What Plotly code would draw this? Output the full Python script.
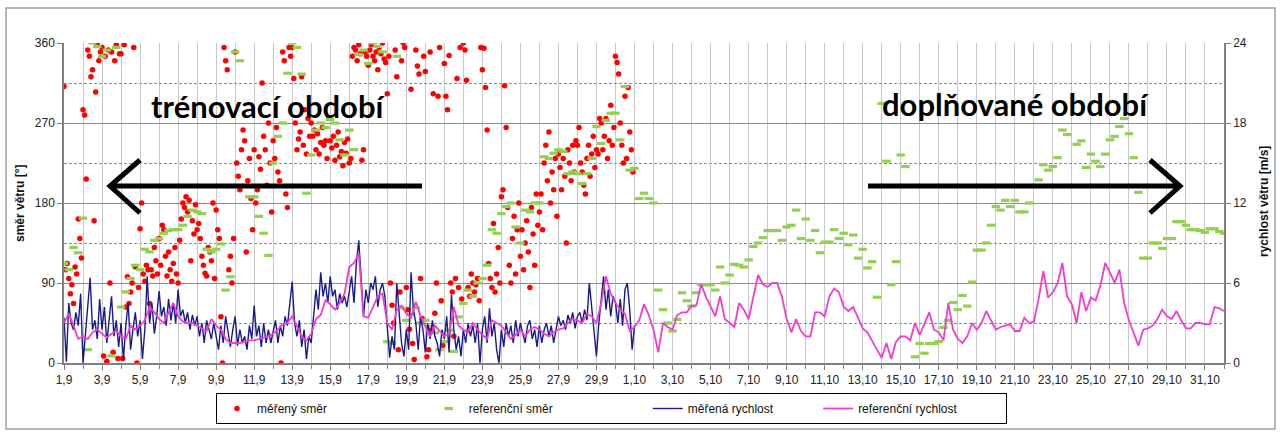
import plotly.graph_objects as go
import pandas as pd

# ---------------- data ----------------
START = "2011-09-01"

# measured wind speed [m/s], 3-hourly, 1.9 00:00 .. 1.10 00:00
meas_speed = [
    3.4, 0.1, 4.5, 3.0, 2.5, 3.8, 2.8, 5.2,
    0.0, 2.2, 4.0, 6.4, 2.5, 3.2, 1.8, 4.8,
    2.5, 4.2, 1.5, 3.5, 5.0, 2.0, 3.2, 1.2,
    3.0, 0.2, 2.8, 4.5, 1.0, 2.5, 3.8, 2.0,
    3.2, 0.3, 2.5, 6.5, 3.0, 4.5, 2.2, 3.5,
    5.4, 3.5, 4.2, 2.8, 4.8, 3.2, 4.5, 3.0,
    5.5, 3.5, 4.0, 3.0, 3.8, 2.5, 3.6, 2.8,
    3.5, 2.0, 3.0, 1.5, 3.2, 2.5, 1.8, 3.0,
    2.0, 1.0, 2.8, 1.5, 3.5, 2.2, 1.2, 2.5,
    3.5, 1.3, 2.5, 1.5, 2.0, 1.0, 2.8, 1.8,
    4.3, 2.0, 2.8, 1.2, 3.0, 1.5, 2.5, 1.5,
    2.5, 3.2, 1.5, 2.8, 2.0, 3.5, 2.8, 4.5,
    6.1, 3.0, 2.0, 3.2, 1.2, 2.5, 0.3, 2.0,
    1.5, 3.5, 5.5, 4.0, 6.8, 5.0, 6.0, 4.5,
    6.5, 5.0, 5.5, 4.0, 5.2, 4.5, 5.0, 4.2,
    5.5, 6.5, 4.5, 7.5, 9.2, 6.0, 3.5, 5.5,
    4.5, 6.0, 5.5, 6.5, 4.2, 5.5, 6.0, 5.0,
    3.0, 0.4, 2.0, 1.0, 6.0, 3.5, 1.5, 0.5,
    2.5, 1.0, 6.8, 4.0, 3.0, 1.0, 3.5, 2.5,
    0.8, 3.0, 1.8, 3.2, 2.0, 1.5, 0.5, 2.5,
    1.8, 3.5, 0.8, 5.1, 2.5, 1.0, 2.0, 0.5,
    2.5, 1.5, 3.0, 2.0, 2.8, 1.5, 3.0, 0.0,
    2.5, 3.5, 1.5, 4.1, 2.0, 3.0, 1.0, 0.0,
    2.5, 1.2, 3.0, 2.0, 2.8, 1.5, 3.2, 2.0,
    3.0, 2.2, 1.5, 2.8, 3.2, 1.8, 2.5, 1.2,
    2.8, 1.5, 2.5, 3.0, 2.0, 2.8, 1.5, 2.5,
    3.5, 2.8, 3.2, 2.5, 3.6, 3.0, 3.8, 2.6,
    3.5, 3.8, 3.0, 4.0, 3.2, 6.0, 4.0, 2.5,
    0.5, 3.0, 5.0, 6.5, 4.0, 5.5, 3.5, 5.0,
    4.5, 3.0, 4.8, 2.8, 5.5, 6.0, 4.0, 1.0,
    2.8,
]

# measured wind direction [deg], 2-hourly, September
meas_dir = [
    311, 105, 112, 95, 78, 88, 67, 108, 100, 162, 140, 118,
    285, 279, 207, 352, 345, 322, 330, 160, 305, 358, 340, 350,
    355, 8, 345, 2, 352, 90, 350, 12, 340, 358, 5, 348,
    348, 5, 358, 63, 97, 67, 80, 90, 355, 108, 0, 85,
    151, 180, 100, 92, 110, 105, 67, 105, 98, 130, 115, 100,
    140, 110, 155, 150, 120, 98, 125, 105, 92, 112, 130, 100,
    90, 138, 162, 180, 175, 187, 170, 183, 115, 160, 145, 178,
    150, 157, 140, 120, 110, 101, 98, 130, 125, 115, 180, 95,
    172, 150, 140, 52, 0, 355, 340, 330, 105, 120, 90, 140,
    350, 225, 210, 195, 240, 262, 250, 125, 205, 230, 185, 150,
    240, 180, 195, 232, 218, 315, 255, 240, 200, 270, 225, 170,
    250, 230, 265, 215, 205, 0, 350, 340, 190, 175, 355, 345,
    355, 320, 270, 240, 252, 260, 322, 245, 285, 235, 275, 255,
    270, 255, 262, 240, 258, 235, 248, 265, 245, 250, 230, 275,
    250, 242, 255, 228, 245, 260, 232, 238, 222, 248, 236, 252,
    225, 230, 345, 355, 352, 340, 358, 348, 228, 240, 350, 345,
    335, 352, 358, 345, 340, 350, 330, 355, 348, 360, 342, 338,
    303, 345, 90, 65, 45, 352, 322, 15, 80, 340, 360, 355,
    85, 60, 38, 308, 22, 4, 352, 334, 325, 95, 50, 345,
    328, 7, 15, 350, 38, 303, 56, 90, 300, 355, 70, 20,
    337, 300, 285, 346, 90, 80, 30, 95, 320, 85, 355, 72,
    360, 352, 318, 85, 75, 100, 90, 80, 88, 95, 70, 355,
    330, 354, 310, 262, 112, 95, 85, 157, 80, 100, 130, 90,
    187, 195, 312, 265, 175, 110, 90, 140, 165, 100, 150, 180,
    120, 150, 105, 135, 160, 125, 85, 175, 145, 110, 190, 155,
    170, 190, 150, 225, 245, 205, 260, 180, 215, 195, 230, 165,
    235, 220, 195, 230, 210, 135, 240, 225, 205, 245, 215, 250,
    245, 265, 225, 215, 200, 190, 230, 245, 210, 235, 255, 220,
    240, 235, 275, 270, 240, 255, 275, 230, 250, 290, 245, 265,
    345, 338, 325, 270, 245, 225, 300, 230, 310, 260, 240, 215,
]

# reference wind direction [deg], 6-hourly, 1.9 .. 1.11
ref_dir = [
    112, 105, 130, 124, 163, 15, 360, 356, 345, 352, 8, 355,
    63, 80, 95, 110, 105, 128, 125, 138, 140, 146, 149, 150,
    150, 155, 165, 172, 170, 168, 128, 125, 128, 134, 82, 97,
    350, 340, 200, 187, 187, 165, 146, 121, 225, 255, 270, 326,
    360, 355, 325, 191, 234, 262, 270, 265, 274, 270, 251, 234,
    262, 240, 347, 352, 337, 360, 356, 350, 24, 22, 345, 62,
    48, 55, 62, 45, 48, 41, 34, 15, 24, 37, 13, 52,
    67, 82, 75, 90, 95, 110, 150, 146, 168, 176, 180, 153,
    135, 172, 170, 180, 180, 232, 230, 236, 240, 238, 213, 215,
    213, 202, 213, 230, 266, 247, 273, 281, 281, 251, 311, 217,
    219, 185, 191, 185, 180, 82, 60, 45, 36, 49, 79, 70,
    64, 79, 88, 88, 88, 82, 108, 90, 99, 111, 110, 108,
    116, 131, 135, 141, 149, 149, 149, 138, 153, 155, 172, 140,
    162, 138, 149, 124, 136, 136, 150, 140, 146, 133, 144, 118,
    128, 107, 114, 74, 292, 227, 88, 114, 234, 221, None, 7,
    22, 11, 22, 22, 24, 40, 48, 68, 60, 76, 64, 91,
    127, 127, 135, 155, 176, 172, 183, 176, 183, 170, 170, 180,
    None, 206, 223, 217, 221, 231, 262, 257, None, 246, 250, 220,
    235, 227, 221, 235, 251, 255, 266, 275, 258, 231, 192, 118,
    118, 135, 135, 129, 140, 140, 159, 159, 155, 150, 150, 149,
    147, 151, 151, 148, 146,
]

# reference wind speed [m/s], 6-hourly, 1.9 .. 1.11
ref_speed = [
    3.0, 3.7, 2.8, 1.8, 2.0, 1.8, 2.3, 2.5, 2.2, 1.9,
    2.2, 2.4, 2.0, 1.8, 2.8, 2.5, 2.8, 3.2, 4.2, 3.8,
    3.3, 3.0, 3.8, 4.5, 3.5, 3.1, 3.0, 3.0, 2.8, 2.6,
    2.4, 3.3, 2.8, 2.5, 1.8, 1.5, 1.5, 1.5, 1.6, 1.7,
    1.7, 1.8, 1.9, 2.0, 2.2, 2.5, 2.9, 3.0, 3.5, 2.8,
    2.0, 1.7, 2.2, 3.3, 3.6, 4.7, 4.4, 4.0, 4.5, 5.2,
    7.2, 7.5, 8.2, 3.5, 3.4, 4.2, 5.0, 5.2, 3.0, 2.5,
    4.0, 4.3, 3.7, 3.4, 4.6, 3.5, 2.7, 2.0, 2.8, 2.4,
    2.0, 2.2, 4.2, 2.8, 2.5, 2.3, 3.0, 2.5, 2.1, 1.8,
    3.2, 3.0, 2.8, 2.3, 1.8, 2.1, 2.5, 2.0, 2.5, 2.7,
    2.5, 2.2, 2.0, 2.3, 2.5, 2.6, 3.0, 3.3, 3.2, 3.0,
    3.7, 3.5, 3.0, 4.5, 6.5, 5.2, 4.5, 4.0, 3.7, 2.4,
    2.7, 3.2, 4.4, 3.6, 2.5, 0.8, 3.0, 2.7, 2.5, 3.6,
    3.8, 3.8, 4.3, 4.3, 5.9, 5.0, 4.3, 3.5, 5.0, 3.3,
    3.0, 2.7, 4.5, 4.0, 3.3, 5.0, 6.6, 5.9, 5.7, 6.0,
    6.0, 5.0, 3.3, 2.3, 3.3, 2.4, 2.0, 2.0, 3.8, 3.8,
    3.5, 5.0, 5.6, 5.3, 4.2, 3.9, 4.2, 3.4, 2.6, 2.3,
    1.6, 1.0, 0.4, 1.5, 0.3, 1.6, 2.0, 2.0, 1.7, 3.0,
    2.1, 3.0, 3.8, 2.5, 2.3, 1.7, 4.5, 2.5, 1.8, 1.5,
    2.0, 3.0, 2.5, 3.0, 3.9, 3.2, 2.5, 2.7, 2.8, 2.9,
    2.4, 2.4, 3.4, 3.0, 3.1, 4.8, 6.9, 4.9, 5.3, 6.0,
    7.5, 5.0, 4.4, 3.0, 5.3, 3.9, 4.9, 4.7, 5.8, 7.5,
    6.8, 6.0, 7.0, 4.5, 3.2, 2.2, 1.3, 2.5, 2.6, 2.8,
    3.3, 4.0, 3.5, 3.3, 3.9, 3.2, 2.6, 2.6, 3.0, 3.0,
    2.9, 2.9, 4.2, 4.1, 3.9,
]

x_tick_labels = [
    "1,9", "3,9", "5,9", "7,9", "9,9", "11,9", "13,9", "15,9", "17,9", "19,9",
    "21,9", "23,9", "25,9", "27,9", "29,9", "1,10", "3,10", "5,10", "7,10",
    "9,10", "11,10", "13,10", "15,10", "17,10", "19,10", "21,10", "23,10",
    "25,10", "27,10", "29,10", "31,10",
]
y_dir_ticks = [0, 90, 180, 270, 360]
y_speed_ticks = [0, 6, 12, 18, 24]

series_names = ["měřený směr", "referenční směr", "měřená rychlost", "referenční rychlost"]

# ---------------- time axes ----------------
t_meas_speed = pd.date_range(START, periods=len(meas_speed), freq="3h")
t_meas_dir = pd.date_range(START, periods=len(meas_dir), freq="2h")
t_ref = pd.date_range(START, periods=len(ref_dir), freq="6h")
t_ref_speed = pd.date_range(START, periods=len(ref_speed), freq="6h")
x_tick_vals = pd.date_range(START, periods=len(x_tick_labels), freq="2D")

# ---------------- figure ----------------
W, H = 1281, 432
L, R, T, B = 64, 1224, 43, 363   # plot area in pixels


def px(x):
    return (x - L) / (R - L)


def py(y):
    return (B - y) / (B - T)


NB = "\u00a0"
fig = go.Figure()
fig.add_trace(go.Scatter(
    x=t_meas_dir, y=meas_dir, mode="markers", name=series_names[0] + NB * 29,
    marker=dict(symbol="circle", size=5.5, color="#FF0000"),
))
fig.add_trace(go.Scatter(
    x=t_ref, y=ref_dir, mode="markers", name=series_names[1] + NB * 27,
    marker=dict(symbol="line-ew", size=6, color="#92D050",
                line=dict(width=3.2, color="#92D050")),
))
fig.add_trace(go.Scatter(
    x=t_meas_speed, y=meas_speed, mode="lines", name=series_names[2] + NB * 12,
    yaxis="y2", line=dict(color="#1A1A8C", width=1.4),
))
fig.add_trace(go.Scatter(
    x=t_ref_speed, y=ref_speed, mode="lines", name=series_names[3] + NB * 13,
    yaxis="y2", line=dict(color="#F03CD2", width=1.8),
))

axis_font = dict(family="Liberation Sans, Arial, sans-serif", size=12, color="#222")

fig.update_layout(
    width=W, height=H,
    margin=dict(l=L, r=W - R, t=T, b=H - B, autoexpand=False),
    paper_bgcolor="white", plot_bgcolor="white",
    showlegend=True,
    legend=dict(
        orientation="h", x=px(216), y=py(393), xanchor="left", yanchor="top",
        bordercolor="#000000", borderwidth=1, bgcolor="white",
        font=dict(family="Liberation Sans, Arial, sans-serif", size=12, color="#111"),
        itemwidth=30, tracegroupgap=0,
    ),
    xaxis=dict(
        type="date", range=[START, "2011-11-01"],
        tickmode="array", tickvals=x_tick_vals, ticktext=x_tick_labels,
        ticks="outside", ticklen=5, tickcolor="#808080",
        showgrid=True, gridcolor="#C8C8C8", gridwidth=1,
        showline=True, linecolor="#808080", linewidth=1.5,
        zeroline=False, tickfont=axis_font, tickangle=0,
        minor=dict(dtick=86400000, tick0=START, ticks="outside", ticklen=4,
                   tickcolor="#808080", showgrid=True, gridcolor="#C8C8C8"),
    ),
    yaxis=dict(
        range=[0, 360], tickmode="array", tickvals=y_dir_ticks,
        ticks="outside", ticklen=5, tickcolor="#808080",
        showgrid=True, gridcolor="#8C8C8C", gridwidth=1,
        showline=True, linecolor="#808080", linewidth=1.5,
        zeroline=False, tickfont=axis_font,
        minor=dict(tickmode="array", tickvals=[45, 135, 225, 315], showgrid=True,
                   gridcolor="#8C8C8C", griddash="3px,2px", ticks=""),
    ),
    yaxis2=dict(
        range=[0, 24], tickmode="array", tickvals=y_speed_ticks,
        overlaying="y", side="right",
        ticks="outside", ticklen=5, tickcolor="#808080",
        showgrid=False, showline=True, linecolor="#808080", linewidth=1.5,
        zeroline=False, tickfont=axis_font,
    ),
)

title_font = dict(family="Liberation Sans, Arial, sans-serif", size=12, color="#111")
big_font = dict(family="Lato, Open Sans, sans-serif", size=31, color="#000")
ann = dict(xref="paper", yref="paper", xanchor="center", yanchor="middle", showarrow=False)
fig.add_annotation(text="<b>směr větru [°]</b>", x=px(20), y=py(203), textangle=-90,
                   font=title_font, **ann)
fig.add_annotation(text="<b>rychlost větru [m/s]</b>", x=px(1264), y=py(202), textangle=-90,
                   font=title_font, **ann)
fig.add_annotation(text="<b>trénovací období</b>", x=px(268), y=py(106), font=big_font, **ann)
fig.add_annotation(text="<b>doplňované období</b>", x=px(1015), y=py(104), font=big_font, **ann)

arrow_left = (f"M {px(422)},{py(186)} L {px(110)},{py(186)} "
              f"M {px(140)},{py(160)} L {px(110)},{py(186)} L {px(140)},{py(213)}")
arrow_right = (f"M {px(868)},{py(186)} L {px(1180)},{py(186)} "
               f"M {px(1150)},{py(160)} L {px(1180)},{py(186)} L {px(1150)},{py(213)}")
for p in (arrow_left, arrow_right):
    fig.add_shape(type="path", path=p, xref="paper", yref="paper",
                  line=dict(color="black", width=5))

fig.add_shape(type="rect", xref="paper", yref="paper",
              x0=px(6), x1=px(1275), y0=py(429), y1=py(8),
              line=dict(color="#A0A0A0", width=1.5), layer="below")

fig.write_html("out.html")
